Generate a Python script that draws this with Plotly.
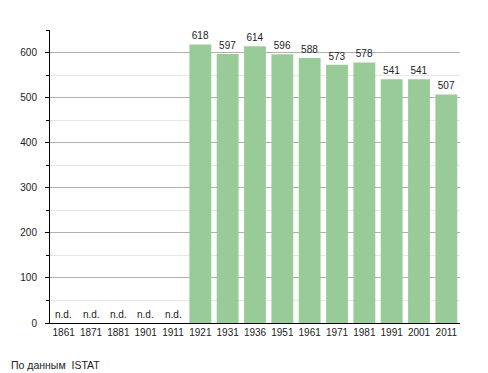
import plotly.graph_objects as go

years = ["1861", "1871", "1881", "1901", "1911", "1921", "1931", "1936",
         "1951", "1961", "1971", "1981", "1991", "2001", "2011"]
population = [None, None, None, None, None, 618, 597, 614, 596, 588, 573, 578, 541, 541, 507]
missing_label = "n.d."
source_text = "По данным  ISTAT"

font_family = "Liberation Sans, Arial, sans-serif"

fig = go.Figure()
fig.add_trace(go.Bar(
    x=years, y=population,
    marker=dict(color="#99cb99", line=dict(width=0)),
    text=[str(v) if v is not None else "" for v in population],
    textposition="outside", cliponaxis=False,
    textfont=dict(size=10, color="#222", family=font_family),
    hoverinfo="x+y",
))

for i, v in enumerate(population):
    if v is None:
        fig.add_annotation(x=i, y=0, text=missing_label, showarrow=False,
                           yanchor="bottom", yshift=1,
                           font=dict(size=10, color="#222", family=font_family))

fig.add_annotation(xref="paper", yref="paper", x=-0.1, y=-0.145,
                   xanchor="left", yanchor="middle", text=source_text,
                   showarrow=False, font=dict(size=10.5, color="#222", family=font_family))

fig.update_layout(
    width=480, height=365,
    margin=dict(l=42, r=28, t=22, b=50),
    paper_bgcolor="white", plot_bgcolor="white",
    bargap=0.2, showlegend=False,
    font=dict(family=font_family, size=10, color="#222"),
)
fig.update_xaxes(type="category", categoryorder="array", categoryarray=years,
                 range=[-0.5, len(years) - 0.5],
                 showline=True, linecolor="#000", linewidth=1,
                 ticks="", tickfont=dict(size=10, color="#222"), showgrid=False)
fig.update_yaxes(range=[0, 650], dtick=100, showline=True, linecolor="#000", linewidth=1,
                 ticks="outside", ticklen=4, tickcolor="#000", ticklabelstandoff=6,
                 showgrid=True, gridcolor="#b0b0b0", gridwidth=1, zeroline=False,
                 tickfont=dict(size=10, color="#222"),
                 minor=dict(dtick=50, showgrid=True, gridcolor="#e6e6e6",
                            ticks="outside", ticklen=3, tickcolor="#000"))

fig.write_html("out.html")
